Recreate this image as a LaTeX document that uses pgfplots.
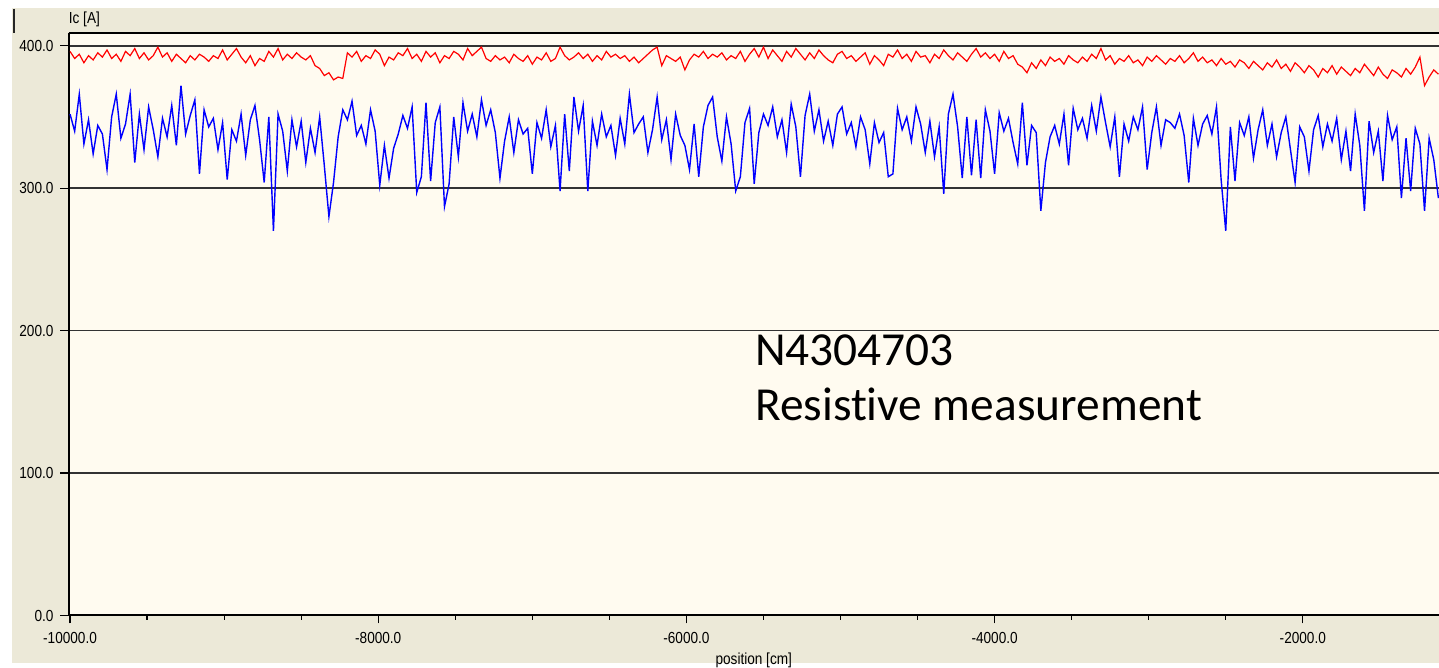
\documentclass[border=0pt]{standalone}
\usepackage{pgfplots}
\pgfplotsset{compat=1.18}
\usepackage{pgfplotstable}
\usepackage{fontspec}
\setmainfont{Liberation Sans}
\newfontfamily\tickfont[FakeStretch=0.85]{Liberation Sans}
\newfontfamily\annfont[Ligatures=NoCommon]{Carlito}
\definecolor{outerbg}{RGB}{236,233,216}
\definecolor{plotbg}{RGB}{255,251,240}
\pgfplotstableread{
x r b
-10000 396 352
-9970 391 340
-9940 394 366
-9910 388 331
-9880 393 348
-9850 390 324
-9820 395 344
-9790 392 338
-9760 397 313
-9730 391 350
-9700 394 366
-9670 389 335
-9640 396 345
-9610 393 366
-9580 398 318
-9550 391 352
-9520 395 327
-9490 390 357
-9460 393 341
-9430 399 322
-9400 392 349
-9370 395 336
-9340 389 358
-9310 394 330
-9280 391 372
-9250 388 338
-9220 393 351
-9190 390 362
-9160 394 310
-9130 392 355
-9100 389 343
-9070 393 349
-9040 391 327
-9010 397 346
-8980 390 306
-8950 394 341
-8920 398 333
-8890 392 352
-8860 388 323
-8830 393 348
-8800 386 358
-8770 391 334
-8740 389 304
-8710 396 350
-8680 392 270
-8650 398 352
-8620 390 340
-8590 394 312
-8560 391 348
-8530 395 329
-8500 392 347
-8470 390 318
-8440 393 342
-8410 386 325
-8380 384 350
-8350 379 316
-8320 381 280
-8290 376 304
-8260 378 336
-8230 377 355
-8200 395 348
-8170 392 361
-8140 396 337
-8110 389 344
-8080 393 331
-8050 391 355
-8020 397 340
-7990 394 302
-7960 386 330
-7930 392 307
-7900 390 328
-7870 395 338
-7840 393 351
-7810 398 342
-7780 391 357
-7750 394 297
-7720 389 308
-7690 396 360
-7660 392 305
-7630 395 346
-7600 388 357
-7570 393 287
-7540 391 303
-7510 396 350
-7480 394 322
-7450 390 360
-7420 398 340
-7390 393 352
-7360 396 336
-7330 399 362
-7300 391 344
-7270 389 355
-7240 393 339
-7210 390 307
-7180 392 333
-7150 388 350
-7120 394 325
-7090 391 348
-7060 389 338
-7030 393 342
-7000 387 310
-6970 392 346
-6940 390 335
-6910 395 355
-6880 389 329
-6850 391 344
-6820 399 298
-6790 393 352
-6760 390 312
-6730 392 364
-6700 395 340
-6670 391 358
-6640 394 298
-6610 389 347
-6580 393 330
-6550 390 352
-6520 396 336
-6490 392 344
-6460 394 323
-6430 391 349
-6400 393 331
-6370 389 366
-6340 392 339
-6310 388 345
-6280 391 350
-6250 394 325
-6220 397 341
-6190 399 364
-6160 386 334
-6130 393 348
-6100 391 320
-6070 389 352
-6040 392 337
-6010 383 330
-5980 390 313
-5950 394 345
-5920 392 308
-5890 396 343
-5860 391 358
-5830 394 364
-5800 392 336
-5770 395 319
-5740 390 350
-5710 393 331
-5680 391 298
-5650 396 308
-5620 389 346
-5590 394 356
-5560 398 303
-5530 392 339
-5500 399 352
-5470 391 344
-5440 397 357
-5410 393 336
-5380 389 348
-5350 396 325
-5320 392 359
-5290 398 343
-5260 394 308
-5230 390 351
-5200 395 366
-5170 391 340
-5140 397 355
-5110 393 333
-5080 390 347
-5050 388 330
-5020 394 352
-4990 396 357
-4960 391 338
-4930 393 346
-4900 389 329
-4870 392 350
-4840 395 341
-4810 387 317
-4780 393 346
-4750 390 332
-4720 386 339
-4690 394 308
-4660 392 310
-4630 397 356
-4600 391 341
-4570 394 350
-4540 389 333
-4510 396 357
-4480 392 345
-4450 393 325
-4420 388 347
-4390 394 322
-4360 391 343
-4330 397 296
-4300 393 352
-4270 390 366
-4240 395 343
-4210 392 307
-4180 389 350
-4150 394 309
-4120 398 348
-4090 392 307
-4060 395 355
-4030 391 340
-4000 394 310
-3970 389 353
-3940 396 340
-3910 391 349
-3880 393 332
-3850 387 317
-3820 385 360
-3790 381 316
-3760 388 344
-3730 384 339
-3700 390 284
-3670 386 318
-3640 392 336
-3610 389 344
-3580 391 331
-3550 387 352
-3520 393 316
-3490 390 356
-3460 388 341
-3430 392 349
-3400 389 335
-3370 394 358
-3340 391 340
-3310 398 364
-3280 390 346
-3250 393 329
-3220 387 350
-3190 391 308
-3160 389 345
-3130 393 333
-3100 388 350
-3070 390 341
-3040 386 357
-3010 392 313
-2980 389 339
-2950 393 357
-2920 390 330
-2890 387 348
-2860 391 346
-2830 389 342
-2800 393 352
-2770 388 337
-2740 391 304
-2710 395 349
-2680 389 330
-2650 392 345
-2620 388 351
-2590 390 338
-2560 386 357
-2530 391 306
-2500 387 270
-2470 389 343
-2440 385 305
-2410 390 346
-2380 388 337
-2350 384 350
-2320 389 321
-2290 386 341
-2260 383 355
-2230 388 330
-2200 385 345
-2170 390 322
-2140 384 339
-2110 387 350
-2080 382 327
-2050 388 304
-2020 385 343
-1990 381 336
-1960 386 312
-1930 383 341
-1900 378 351
-1870 384 329
-1840 381 345
-1810 386 333
-1780 380 349
-1750 385 320
-1720 382 340
-1690 379 312
-1660 384 352
-1630 381 330
-1600 387 284
-1570 383 347
-1540 379 325
-1510 385 340
-1480 380 305
-1450 377 351
-1420 383 334
-1390 381 343
-1360 378 293
-1330 384 335
-1300 380 298
-1270 385 342
-1240 392 331
-1210 372 284
-1180 378 335
-1150 383 320
-1120 380 293
}\datatable

\begin{document}
\begin{tikzpicture}
\fill[white] (-34.25pt,-26.25pt) rectangle (685.25pt,307.75pt);
\fill[outerbg] (-28.25pt,-23.75pt) rectangle (685.25pt,303.75pt);
\draw[black!85, line width=1.1pt] (-27.25pt,303.25pt) -- (-27.25pt,291.25pt);
\begin{axis}[
  at={(0pt,0pt)}, anchor=south west,
  scale only axis, width=685.25pt, height=291.1pt,
  xmin=-10010, xmax=-1116, ymin=0, ymax=408.7,
  axis x line=box, axis y line=left,
  axis line style={-, line width=1pt, black},
  axis background/.style={fill=plotbg},
  xtick pos=left, ytick pos=left,
  tick align=outside,
  xtick={-10000,-8000,-6000,-4000,-2000},
  minor x tick num=3,
  ytick={0,100,200,300,400},
  ymajorgrids,
  major grid style={black!80, line width=0.9pt},
  major tick length=4pt, minor tick length=2.2pt,
  tick style={black, line width=0.6pt},
  scaled x ticks=false, scaled y ticks=false,
  /pgf/number format/fixed,
  /pgf/number format/fixed zerofill,
  /pgf/number format/precision=1,
  /pgf/number format/1000 sep={},
  /pgf/number format/assume math mode=true,
  tick label style={font=\tickfont\fontsize{8}{9.5}\selectfont},
  xticklabel style={yshift=-0.8pt},
  xlabel={position [cm]},
  xlabel style={at={(axis description cs:0.5,0)}, anchor=north, yshift=-18.6pt, inner sep=0pt, font=\tickfont\fontsize{8}{9.5}\selectfont},
  ylabel={Ic [A]},
  ylabel style={at={(axis description cs:0,1)}, rotate=-90, anchor=south west, inner sep=0pt, yshift=2.9pt, font=\tickfont\fontsize{8}{9.5}\selectfont},
]
\addplot[red, line width=0.6pt] table[x=x, y=r] {\datatable};
\addplot[blue, line width=0.7pt] table[x=x, y=b] {\datatable};
\node[anchor=base west, inner sep=0pt, font=\annfont\fontsize{23.7}{28}\selectfont] at (axis cs:-5557,175.8) {N4304703};
\node[anchor=base west, inner sep=0pt, font=\annfont\fontsize{23.7}{28}\selectfont] at (axis cs:-5557,137.2) {Resistive measurement};
\end{axis}
\pgfresetboundingbox
\path (-34.25pt,-26.25pt) rectangle (685.25pt,307.75pt);
\end{tikzpicture}
\end{document}
